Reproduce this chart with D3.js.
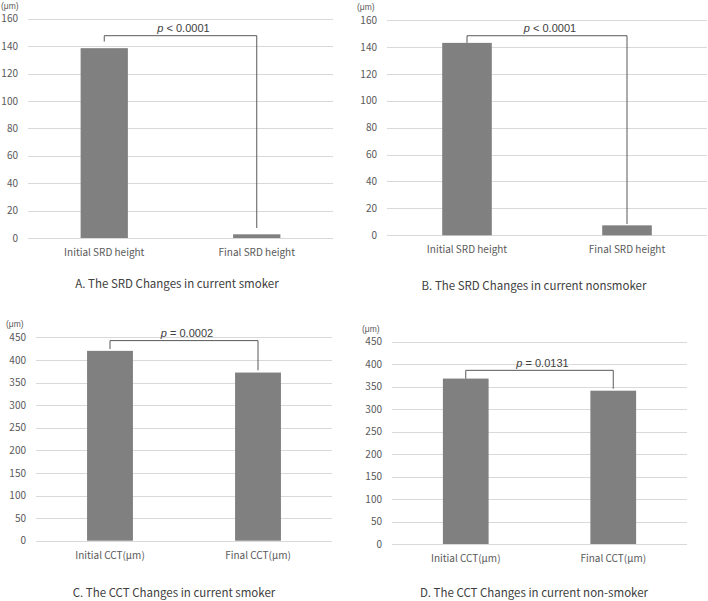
<!DOCTYPE html>
<html>
<head>
<meta charset="utf-8">
<script src="https://cdn.jsdelivr.net/npm/d3@7"></script>
<style>
  body { margin: 0; background: #fff; }
  svg { display: block; }
  .tick text, .cat { font-family: "Noto Sans CJK JP", "Noto Sans", sans-serif; fill: #595959; }
  .unit { font-family: "Liberation Sans", Arial, sans-serif; fill: #595959; }
  .ptext { font-family: "Liberation Sans", Arial, sans-serif; fill: #404040; }
  .title { font-family: "Noto Sans CJK JP", "Noto Sans", sans-serif; fill: #404040; }
</style>
</head>
<body>
<div id="chart"></div>
<script>
// categories
var srdCategories = ["Initial SRD height", "Final SRD height"];
var cctCategories = ["Initial CCT(μm)", "Final CCT(μm)"];

// series values (μm)
var smokerSRD = [138.5, 2.7];
var nonsmokerSRD = [143, 7.4];
var smokerCCT = [420, 372];
var nonsmokerCCT = [368, 341];

// tick labels
var srdTicks = [0, 20, 40, 60, 80, 100, 120, 140, 160];
var cctTicks = [0, 50, 100, 150, 200, 250, 300, 350, 400, 450];

// significance labels and bracket levels (value units: top, left leg end, right leg end)
var pLabels = ["< 0.0001", "< 0.0001", "= 0.0002", "= 0.0131"];
var brackets = [[147.6, 143.3, 7.3], [148.3, 143, 8.4], [442.7, 424, 377], [386.3, 368, 345.4]];

var titles = [
	"A. The SRD Changes in current smoker",
	"B. The SRD Changes in current nonsmoker",
	"C. The CCT Changes in current smoker",
	"D. The CCT Changes in current non-smoker"
];

var svg = d3.select("#chart").append("svg")
	.attr("width", 708)
	.attr("height", 601);

/*
 * drawPanel - one small bar chart
 */
function drawPanel(opt) {
	var g = svg.append("g");

	var x = d3.scaleBand()
		.domain(opt.categories)
		.range([opt.x0, opt.x1])
		.paddingInner(0.69)
		.paddingOuter(0.345);

	var y = d3.scaleLinear()
		.domain([0, d3.max(opt.ticks)])
		.range([opt.yBase, opt.yTop]);

	// gridlines
	g.selectAll(".grid")
		.data(opt.ticks)
		.enter().append("line")
		.attr("class", "grid")
		.attr("x1", opt.x0)
		.attr("x2", opt.x1)
		.attr("y1", function (d) { return Math.round(y(d)) + 0.5; })
		.attr("y2", function (d) { return Math.round(y(d)) + 0.5; })
		.attr("stroke", "#d9d9d9")
		.attr("stroke-width", 1);

	// y axis labels
	var yAxis = d3.axisLeft(y)
		.tickValues(opt.ticks)
		.tickSize(0)
		.tickPadding(10);

	var ay = g.append("g")
		.attr("transform", "translate(" + opt.x0 + ",0)")
		.call(yAxis);
	ay.select(".domain").remove();
	ay.selectAll("text").style("font-size", "10px");

	// unit label
	g.append("text")
		.attr("class", "unit")
		.attr("x", Math.max(1, opt.x0 - 30))
		.attr("y", Math.max(8, y(d3.max(opt.ticks)) - 10))
		.style("font-size", "8.5px")
		.text("(μm)");

	// bars
	g.selectAll(".bar")
		.data(opt.values)
		.enter().append("rect")
		.attr("class", "bar")
		.attr("x", function (d, i) { return x(opt.categories[i]); })
		.attr("width", x.bandwidth())
		.attr("y", function (d) { return y(d); })
		.attr("height", function (d) { return y(0) - y(d); })
		.attr("fill", "#808080");

	// category labels
	g.selectAll(".cat")
		.data(opt.categories)
		.enter().append("text")
		.attr("class", "cat")
		.attr("x", function (d) { return x(d) + x.bandwidth() / 2; })
		.attr("y", opt.yBase + 18)
		.attr("text-anchor", "middle")
		.style("font-size", "10px")
		.text(function (d) { return d; });

	// significance bracket
	var cx0 = x(opt.categories[0]) + x.bandwidth() / 2;
	var cx1 = x(opt.categories[1]) + x.bandwidth() / 2;
	var b = opt.bracket;
	g.append("path")
		.attr("d", "M" + cx0 + "," + y(b[1]) + "V" + y(b[0]) + "H" + cx1 + "V" + y(b[2]))
		.attr("fill", "none")
		.attr("stroke", "#595959")
		.attr("stroke-width", 1);

	var pt = g.append("text")
		.attr("class", "ptext")
		.attr("x", (cx0 + cx1) / 2 + 3)
		.attr("y", y(b[0]) - 3.5)
		.attr("text-anchor", "middle")
		.style("font-size", "11px");
	pt.append("tspan").style("font-style", "italic").text("p");
	pt.append("tspan").text(" " + opt.pLabel);

	// panel title
	g.append("text")
		.attr("class", "title")
		.attr("x", opt.titleX)
		.attr("y", opt.titleY)
		.attr("text-anchor", "middle")
		.style("font-size", "11.5px")
		.text(opt.title);
}

drawPanel({ categories: srdCategories, values: smokerSRD, ticks: srdTicks,
	x0: 28, x1: 333, yBase: 238, yTop: 18.7, bracket: brackets[0], pLabel: pLabels[0],
	title: titles[0], titleX: 177, titleY: 288 });

drawPanel({ categories: srdCategories, values: nonsmokerSRD, ticks: srdTicks,
	x0: 387, x1: 707, yBase: 235.3, yTop: 20, bracket: brackets[1], pLabel: pLabels[1],
	title: titles[1], titleX: 534, titleY: 290 });

drawPanel({ categories: cctCategories, values: smokerCCT, ticks: cctTicks,
	x0: 36, x1: 332, yBase: 540.7, yTop: 337.3, bracket: brackets[2], pLabel: pLabels[2],
	title: titles[2], titleX: 174, titleY: 597 });

drawPanel({ categories: cctCategories, values: nonsmokerCCT, ticks: cctTicks,
	x0: 392, x1: 687, yBase: 544, yTop: 341.7, bracket: brackets[3], pLabel: pLabels[3],
	title: titles[3], titleX: 534, titleY: 597 });
</script>
</body>
</html>
